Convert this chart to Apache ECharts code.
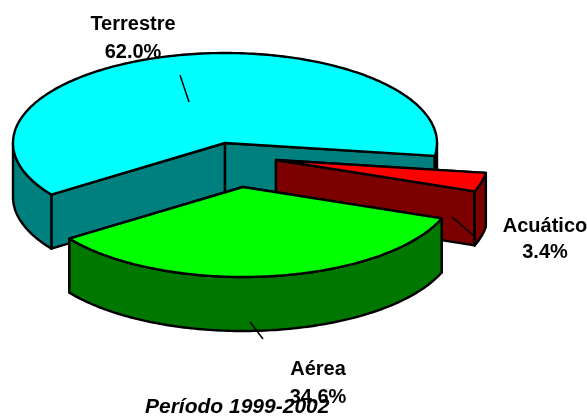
<!DOCTYPE html>
<html>
<head>
<meta charset="utf-8">
<script src="https://cdn.jsdelivr.net/npm/echarts@6/dist/echarts.min.js"></script>
<style>
html, body { margin: 0; padding: 0; background: #fff; }
#main { width: 587px; height: 417px; }
</style>
</head>
<body>
<div id="main"></div>
<script>
var categories = ['Terrestre', 'Acuático', 'Aérea'];
var shares = [62.0, 3.4, 34.6];
var topColors = ['#00ffff', '#ff0000', '#00ff00'];
var sideColors = ['#007f7f', '#7c0000', '#007800'];
var period = 'Período 1999-2002';

// pie geometry
var cx = 225, cy = 143, rx = 212, ry = 90, depth = 54;
var startAngle = 145;
var explodeX = [0, 51, 18];
var explodeY = [0, 17, 44];

// label centre + top, leader line ends
var labelPos = [[133, 10], [545, 213], [318, 355]];
var labelLineHeight = [28, 26.5, 28];
var leaders = [[180, 75, 189, 102], [452, 217, 474, 236], [250, 322, 263, 339]];

var total = shares.reduce(function(a, b) { return a + b; }, 0);

function arcPoints(x0, y0, a0, a1) {
    var pts = [];
    var n = Math.max(2, Math.ceil(Math.abs(a1 - a0)));
    for (var i = 0; i <= n; i++) {
        var a = (a0 + (a1 - a0) * i / n) * Math.PI / 180;
        pts.push([x0 + rx * Math.cos(a), y0 + ry * Math.sin(a)]);
    }
    return pts;
}

function poly(points, color) {
    return {
        type: 'polygon',
        shape: { points: points },
        style: { fill: color, stroke: '#000', lineWidth: 2.4, lineJoin: 'round' }
    };
}

// wall under the rim between two angles
function wall(x0, y0, a0, a1, color) {
    var up = arcPoints(x0, y0, a0, a1);
    var down = up.map(function(p) { return [p[0], p[1] + depth]; }).reverse();
    return poly(up.concat(down), color);
}

function cutFace(x0, y0, a, color) {
    var p = arcPoints(x0, y0, a, a)[0];
    return poly([[x0, y0], p, [p[0], p[1] + depth], [x0, y0 + depth]], color);
}

function renderSlice(params, api) {
    var idx = params.dataIndex;
    var before = 0;
    for (var i = 0; i < idx; i++) before += shares[i];
    var a0 = startAngle + before / total * 360;
    var a1 = a0 + api.value(0) / total * 360;
    var x0 = cx + explodeX[idx], y0 = cy + explodeY[idx];
    var side = sideColors[idx];
    var children = [cutFace(x0, y0, a0, side), cutFace(x0, y0, a1, side)];

    // only the front half of the rim can be seen
    [[0, 180], [360, 540]].forEach(function(r) {
        var from = Math.max(a0, r[0]), to = Math.min(a1, r[1]);
        if (to > from) children.push(wall(x0, y0, from, to, side));
    });

    children.push(poly([[x0, y0]].concat(arcPoints(x0, y0, a0, a1)), topColors[idx]));

    var l = leaders[idx];
    children.push({
        type: 'line',
        shape: { x1: l[0], y1: l[1], x2: l[2], y2: l[3] },
        style: { stroke: '#000', lineWidth: 1.5 }
    });
    children.push({
        type: 'text',
        style: {
            x: labelPos[idx][0],
            y: labelPos[idx][1],
            text: categories[idx] + '\n' + api.value(0).toFixed(1) + '%',
            align: 'center',
            verticalAlign: 'top',
            lineHeight: labelLineHeight[idx],
            font: 'bold 20px "Liberation Sans", Arial, sans-serif',
            fill: '#000'
        }
    });
    return { type: 'group', children: children };
}

var myChart = echarts.init(document.getElementById('main'));
myChart.setOption({
    animation: false,
    backgroundColor: '#fff',
    title: {
        text: period,
        left: 145,
        top: 397,
        padding: 0,
        textStyle: {
            fontFamily: '"Liberation Sans", Arial, sans-serif',
            fontSize: 21,
            fontWeight: 'bold',
            fontStyle: 'italic',
            color: '#000'
        }
    },
    series: [{
        type: 'custom',
        coordinateSystem: 'none',
        renderItem: renderSlice,
        data: shares.map(function(v, i) { return { name: categories[i], value: [v] }; })
    }]
});
</script>
</body>
</html>
